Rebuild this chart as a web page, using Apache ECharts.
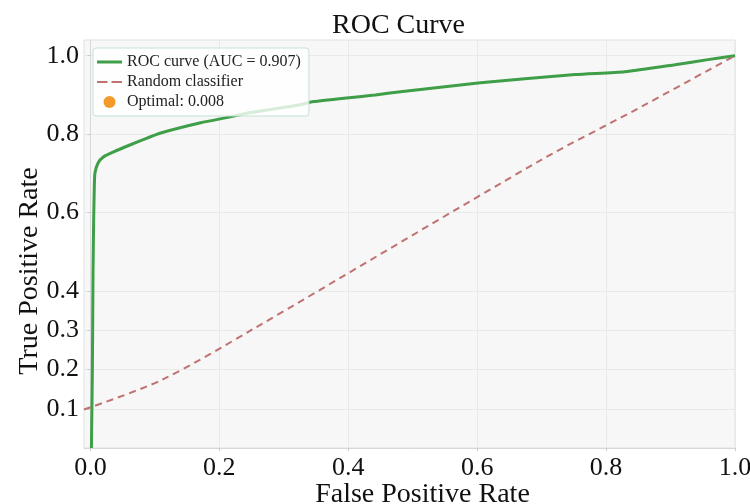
<!DOCTYPE html>
<html>
<head>
<meta charset="utf-8">
<script src="https://cdn.jsdelivr.net/npm/echarts@6/dist/echarts.min.js"></script>
<style>html,body{margin:0;padding:0;background:#fff}#c{width:750px;height:504px}</style>
</head>
<body>
<div id="c"></div>
<script>
// ---- data ----
const rocFpr = [0.0015, 0.003, 0.004, 0.005, 0.006, 0.007, 0.012, 0.020, 0.036, 0.062, 0.088, 0.109, 0.171, 0.217, 0.248, 0.326, 0.346, 0.442, 0.481, 0.605, 0.752, 0.829, 0.907, 0.958, 1.0];
const rocTpr = [0.0, 0.20, 0.45, 0.581, 0.665, 0.701, 0.727, 0.742, 0.755, 0.773, 0.790, 0.803, 0.829, 0.844, 0.855, 0.875, 0.883, 0.900, 0.908, 0.931, 0.952, 0.959, 0.977, 0.990, 1.0];
const randFpr = [-0.01, 0.11, 0.25, 0.70, 0.84, 1.0];
const randTpr = [0.098, 0.173, 0.301, 0.735, 0.857, 1.0];
const xTicks = [0.0, 0.2, 0.4, 0.6, 0.8, 1.0];
const yTicks = [0.1, 0.2, 0.3, 0.4, 0.6, 0.8, 1.0];
const aucValue = '0.907';
const optimalThreshold = '0.008';

const FONT = "'Liberation Serif', 'DejaVu Serif', serif";
const rocData = rocFpr.map((x, i) => [x, rocTpr[i]]);
const randData = randFpr.map((x, i) => [x, randTpr[i]]);

const chart = echarts.init(document.getElementById('c'), null, {renderer: 'canvas'});
chart.setOption({
  animation: false,
  backgroundColor: '#ffffff',
  title: {
    text: 'ROC Curve',
    left: 327, top: 7,
    textStyle: {fontFamily: FONT, fontSize: 28, fontWeight: 'normal', color: '#111'}
  },
  grid: {
    left: 84, right: 15, top: 40, bottom: 56,
    containLabel: false, outerBoundsMode: 'none',
    show: true, backgroundColor: '#f6f7f6', borderColor: '#dfe3e1', borderWidth: 1
  },
  legend: {
    orient: 'vertical', left: 93, top: 48,
    padding: [6, 8, 6, 4], itemGap: 4,
    itemWidth: 25, itemHeight: 12,
    backgroundColor: 'rgba(255,255,255,0.8)',
    borderColor: '#c5e2d8', borderWidth: 1, borderRadius: 3,
    textStyle: {fontFamily: FONT, fontSize: 16, color: '#222', lineHeight: 16},
    data: [
      {name: 'ROC curve (AUC = ' + aucValue + ')', icon: 'path://M0,0H25V3H0Z'},
      {name: 'Random classifier', icon: 'path://M0,0H10.5V2.2H0Z M14.5,0H25V2.2H14.5Z'},
      {name: 'Optimal: ' + optimalThreshold, icon: 'circle'}
    ]
  },
  xAxis: {
    type: 'value', min: -0.01, max: 1.0,
    name: 'False Positive Rate', nameLocation: 'middle', nameGap: 33, nameMoveOverlap: false,
    nameTextStyle: {fontFamily: FONT, fontSize: 28, color: '#111', padding: [0, 0, 0, 26]},
    axisLine: {show: true, lineStyle: {color: '#d5d9d7'}},
    axisTick: {show: true, length: 3, lineStyle: {color: '#c8cccb'}, customValues: xTicks},
    axisLabel: {customValues: xTicks, formatter: v => v.toFixed(1), fontFamily: FONT, fontSize: 26, color: '#111', margin: 7},
    splitLine: {show: true, lineStyle: {color: '#e7eae8', width: 1}}
  },
  yAxis: {
    type: 'value', min: 0, max: 1.04,
    name: 'True Positive Rate', nameLocation: 'middle', nameGap: 40, nameMoveOverlap: false,
    nameTextStyle: {fontFamily: FONT, fontSize: 28, color: '#111', padding: [0, 54, 0, 0]},
    axisLine: {show: true, lineStyle: {color: '#d5d9d7'}},
    axisTick: {show: true, length: 3, lineStyle: {color: '#c8cccb'}, customValues: yTicks},
    axisLabel: {customValues: yTicks, formatter: v => v.toFixed(1), fontFamily: FONT, fontSize: 26, color: '#111', margin: 5},
    splitLine: {show: true, lineStyle: {color: '#e7eae8', width: 1}}
  },
  series: [
    {
      name: 'ROC curve (AUC = ' + aucValue + ')',
      type: 'line', data: rocData, showSymbol: false, symbol: 'none',
      smooth: 0.2, clip: true,
      lineStyle: {color: '#3f9e48', width: 3},
      itemStyle: {color: '#3f9e48'}
    },
    {
      name: 'Random classifier',
      type: 'line', data: randData, showSymbol: false, symbol: 'none',
      smooth: 0.3, clip: true,
      lineStyle: {color: '#c07272', width: 2, type: [7, 5]},
      itemStyle: {color: '#c07272'}
    },
    {
      name: 'Optimal: ' + optimalThreshold,
      type: 'scatter', data: [],
      itemStyle: {color: '#f39a2a', opacity: 1}
    }
  ]
});
</script>
</body>
</html>
